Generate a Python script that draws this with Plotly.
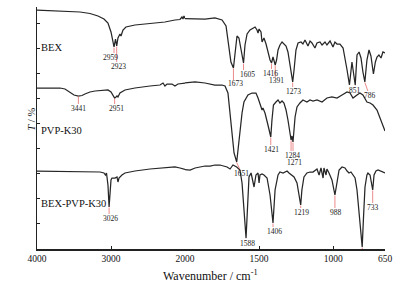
import plotly.graph_objects as go

# ---------------- data (wavenumber cm-1, offset transmittance) ----------------
bex_wn = [4000, 3824, 3622, 3419, 3284, 3176, 3095, 3041, 3000, 2973, 2959, 2939, 2923, 2906, 2879,
          2865, 2838, 2798, 2676, 2473, 2271, 2136, 2068, 2041, 2027, 2014, 2000,
          1993, 1966, 1899, 1865, 1798, 1750, 1723, 1703, 1690, 1673, 1662, 1649, 1636, 1622, 1605,
          1595, 1581, 1561, 1541, 1527, 1514, 1507, 1500, 1487, 1480, 1467, 1453, 1440, 1426, 1416,
          1406, 1391, 1382, 1372, 1359, 1345, 1332, 1318, 1305, 1291, 1273, 1264, 1251, 1237, 1217,
          1204, 1190, 1170, 1156, 1143, 1123, 1109, 1089, 1075, 1055, 1042, 1021, 1001, 988, 974,
          954, 933, 920, 906, 890, 873, 851, 839, 825, 812, 799, 786, 772, 758, 745, 728, 715, 704,
          691, 677, 664, 650]
bex_t = [239, 238.5, 238, 237, 235.5, 233, 230, 226, 217, 204, 202, 210, 203, 211, 215,
         213, 219, 222, 224, 225.5, 227, 229, 229.5, 232, 230, 233, 230.5,
         230.5, 230, 230, 230, 231, 229, 223, 204, 187, 181, 194, 213, 211, 199, 186,
         204, 215, 219, 221, 222, 219, 216, 220, 217, 207, 211, 205, 197, 189, 186,
         192, 184, 189, 199, 204, 207, 205, 203, 197, 183, 167, 179, 199, 206, 207,
         205, 209, 203, 208, 206, 201, 206, 207, 204, 207, 204, 208, 202, 207, 205,
         205, 201, 191, 179, 164, 187, 164, 194, 197, 191, 177, 167, 189, 199, 193, 175, 187, 192,
         194, 191, 197, 196]

pvp_wn = [4000, 3824, 3689, 3622, 3554, 3500, 3441, 3392, 3352, 3284, 3216, 3149, 3081, 3041, 3000,
          2973, 2951, 2932, 2919, 2906, 2879, 2811, 2676, 2473, 2338, 2297, 2271, 2243, 2176, 2136,
          2095, 2000,
          1932, 1865, 1798, 1750, 1730, 1710, 1696, 1683, 1669, 1651, 1642, 1629, 1615, 1602, 1575,
          1548, 1521, 1507, 1494, 1480, 1474, 1460, 1440, 1421, 1413, 1403, 1386, 1372, 1359, 1345,
          1332, 1318, 1305, 1284, 1278, 1271, 1257, 1244, 1224, 1204, 1177, 1156, 1136, 1109, 1075,
          1042, 1008, 974, 940, 906, 886, 866, 839, 819, 799, 772, 751, 731, 704, 684, 664, 650]
pvp_t = [161, 161, 161, 160, 157, 154, 153, 153.5, 155, 157, 158, 158.5, 159, 159, 157,
         153, 151, 152, 153, 152, 156, 159, 161, 163, 164, 166, 163, 165, 165, 163,
         165, 166,
         167, 166, 164, 164, 163, 156, 136, 112, 96, 87, 99, 119, 136, 147, 154,
         156, 156, 151, 146, 139, 141, 136, 124, 112, 129, 144, 147, 149, 146, 148,
         146, 139, 129, 109, 113, 107, 132, 142, 146, 149, 147, 149, 148, 149, 147,
         151, 152, 151, 154, 157, 156, 151, 154, 156, 154, 147, 146, 144, 139, 131, 122, 118]

mix_wn = [4000, 3689, 3419, 3149, 3095, 3075, 3061, 3041, 3026, 3014, 3000, 2987, 2946, 2919, 2906,
          2892, 2852, 2811, 2676, 2473, 2271, 2136, 2068, 2000,
          1966, 1932, 1899, 1865, 1831, 1798, 1764, 1737, 1716, 1696, 1676, 1651, 1629, 1615, 1602,
          1588, 1581, 1575, 1568, 1554, 1541, 1534, 1521, 1507, 1500, 1494, 1480, 1467, 1446, 1426,
          1406, 1392, 1372, 1359, 1338, 1311, 1298, 1278, 1264, 1244, 1219, 1211, 1197, 1177, 1156,
          1136, 1109, 1095, 1082, 1068, 1062, 1048, 1042, 1028, 1008, 988, 974, 960, 940, 920, 906,
          893, 880, 866, 852, 839, 819, 804, 795, 785, 772, 765, 751, 745, 733, 724, 711, 697, 677,
          664, 650]
mix_t = [78, 77.5, 77.5, 77, 76, 74, 76, 64, 42, 59, 69, 71, 71, 72, 67,
         71, 74, 76, 78, 80, 81, 82, 81, 79.5,
         79, 81, 82, 83, 83, 84, 84, 83, 82, 80, 84, 82, 79, 66, 39,
         11, 32, 59, 72, 76, 66, 62, 74, 76, 66, 74, 75, 74, 71, 54,
         26, 59, 74, 77, 76, 78, 76, 74, 72, 66, 44, 59, 72, 76, 77,
         77, 80, 74, 81, 71, 81, 74, 80, 76, 69, 54, 69, 79, 82, 81, 78,
         76, 77, 74, 71, 59, 24, 2, 32, 62, 74, 76, 74, 69, 59, 74, 78, 79, 78,
         77, 76]

series_names = ["BEX", "PVP-K30", "BEX-PVP-K30"]

# peak labels: (series index, wavenumber)
peak_series = [0, 0, 0, 0, 0, 0, 0, 0, 0, 1, 1, 1, 1, 1, 2, 1, 2, 2, 2, 2, 2, 2]
peak_wn = [2959, 2923, 1673, 1605, 1416, 1391, 1273, 851, 786,
           3441, 2951, 1421, 1284, 1271,
           3026, 1651, 1588, 1406, 1219, 988, 804, 733]

# ---------------- layout / styling ----------------
# label placement: (x shift px, label centre y, line end y, diagonal?)
label_place = [(-4, 192, 196, False), (2, 183, 187, False), (2, 165.5, 169, False),
               (3.5, 175, 179, False), (-1.5, 176, 180, False), (1, 168.5, 172, False),
               (1, 158, 162, False), (0, 159, 163, False), (5, 154, 158, True),
               (0, 140.5, 145, False), (1.5, 140.5, 145, False), (0.5, 100, 104, False),
               (1, 94, 98, False), (1, 87, 98, False),
               (1, 31, 35, False), (5, 76, 80, True), (1, 6, 10, False), (1, 18, 22, False),
               (1, 37, 41, False), (1, 37, 41, False), (0, -10, -6, False), (0, 42, 46, False)]

W, H = 411, 287
ML, MR, MT, MB = 37, 26, 7, 38
PW = W - ML - MR
split_frac = 148 / PW
px_per_wn2 = (PW - 148) / (2000 - 650)

curve_color = "#262626"
red = "#ec8a8a"
serif = "Liberation Serif, Times New Roman, serif"

fig = go.Figure()
spectra = [(bex_wn, bex_t), (pvp_wn, pvp_t), (mix_wn, mix_t)]
for name, (wn, t) in zip(series_names, spectra):
    a = [(w, v) for w, v in zip(wn, t) if w >= 2000]
    b = [(w, v) for w, v in zip(wn, t) if w <= 2000]
    fig.add_trace(go.Scatter(x=[p[0] for p in a], y=[p[1] for p in a], mode="lines",
                             line=dict(color=curve_color, width=1.25), xaxis="x", yaxis="y",
                             name=name, showlegend=False, hoverinfo="skip"))
    fig.add_trace(go.Scatter(x=[p[0] for p in b], y=[p[1] for p in b], mode="lines",
                             line=dict(color=curve_color, width=1.25), xaxis="x2", yaxis="y",
                             name=name, showlegend=False, hoverinfo="skip"))

annotations = []
for s, w, (dx, ly, lend, diag) in zip(peak_series, peak_wn, label_place):
    wn, t = spectra[s]
    yv = t[wn.index(w)]
    ax = "x" if w > 2000 else "x2"
    scale = px_per_wn2 if ax == "x2" else 148 / 2000
    x_end = w - (dx - 2) / scale if diag else w
    fig.add_trace(go.Scatter(x=[w, x_end], y=[yv - 0.5, lend], mode="lines",
                             line=dict(color=red, width=1), xaxis=ax, yaxis="y",
                             showlegend=False, hoverinfo="skip", cliponaxis=False))
    annotations.append(dict(x=w, y=ly, xref=ax, yref="y", text=str(w), showarrow=False,
                            xshift=dx, font=dict(family=serif, size=7.5, color="#222")))

# series names
name_y = [202, 119, 46]
for n, yv in zip(series_names, name_y):
    annotations.append(dict(x=3800, y=yv, xref="x", yref="y", text=n, showarrow=False,
                            xanchor="left", xshift=-13, font=dict(family=serif, size=10.5, color="#111")))

annotations.append(dict(x=(210 - ML) / PW, y=-0.108, xref="paper", yref="paper",
                        text="Wavenumber / cm<sup>-1</sup>", showarrow=False, yanchor="middle",
                        font=dict(family=serif, size=12, color="#111")))
annotations.append(dict(x=-0.04, y=0.537, xref="paper", yref="paper", text="<i>T</i> / %",
                        textangle=-90, showarrow=False,
                        font=dict(family=serif, size=10.5, color="#111")))

axis_common = dict(showline=True, linecolor="#222", linewidth=1.5, ticks="inside", ticklen=3,
                   tickcolor="#222", showgrid=False, zeroline=False,
                   tickfont=dict(family=serif, size=9.5, color="#111"))

fig.update_layout(
    width=W, height=H, margin=dict(l=ML, r=MR, t=MT, b=MB),
    paper_bgcolor="white", plot_bgcolor="white",
    xaxis=dict(domain=[0, split_frac], range=[4000, 2000], tickvals=[4000, 3000, 2000],
               anchor="y", **axis_common),
    xaxis2=dict(domain=[split_frac, 1], range=[2000, 650], tickvals=[1500, 1000, 650],
                anchor="y", **axis_common),
    yaxis=dict(range=[0, 242], showline=True, linecolor="#222", linewidth=1.5, ticks="inside",
               ticklen=3, tickcolor="#222", tick0=1, dtick=25, showticklabels=False,
               showgrid=False, zeroline=False),
    annotations=annotations,
)

fig.write_html("out.html", config={"displayModeBar": False, "staticPlot": True})

# remove the browser's default page margin so the figure sits at the window origin
with open("out.html", "r", encoding="utf-8") as f:
    html = f.read()
html = html.replace("<head>", "<head><style>html,body{margin:0;padding:0;overflow:hidden;}</style>", 1)
with open("out.html", "w", encoding="utf-8") as f:
    f.write(html)
